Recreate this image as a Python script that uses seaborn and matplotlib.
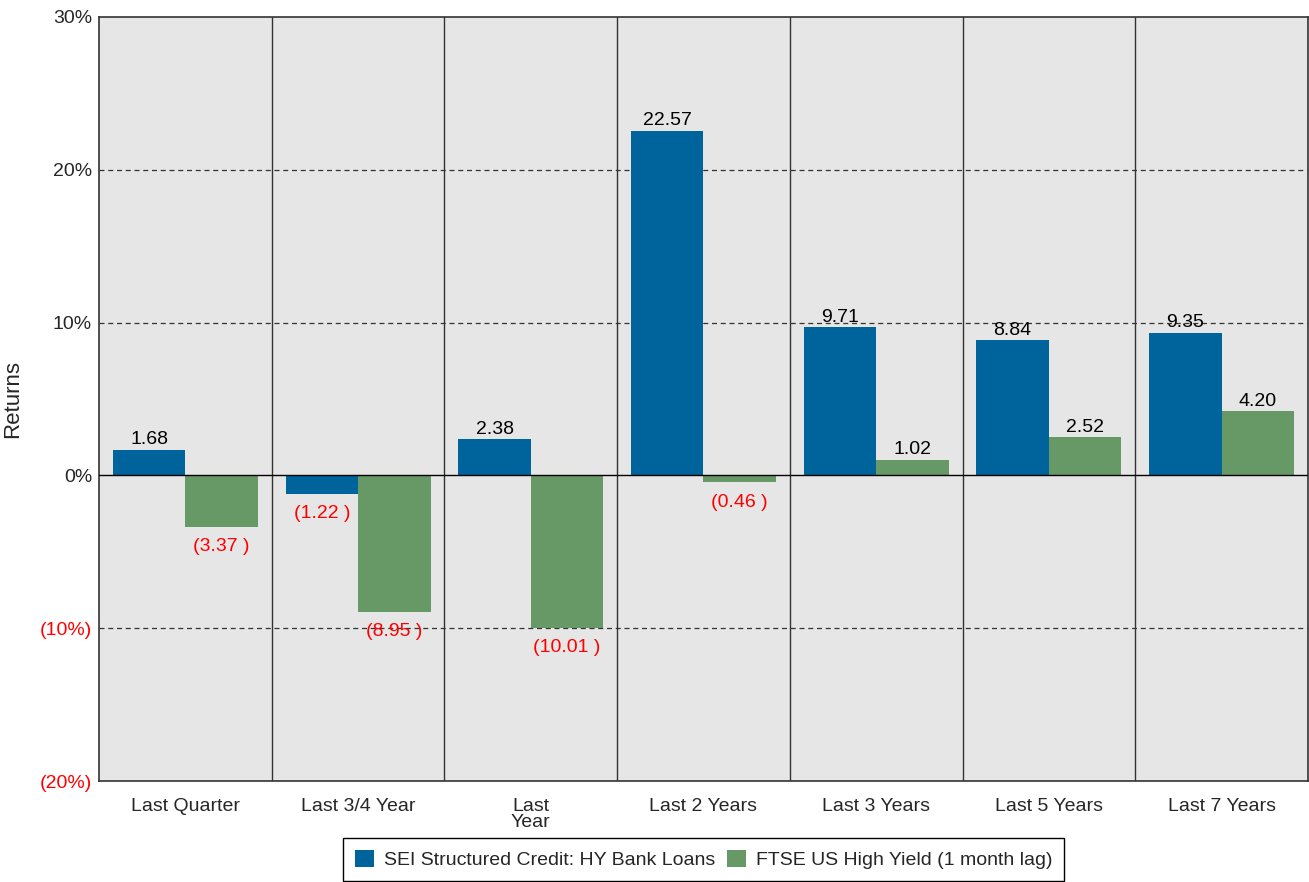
import matplotlib
matplotlib.use('Agg')
import matplotlib.pyplot as plt
import seaborn as sns
import pandas as pd

periods = ['Last Quarter', 'Last 3/4 Year', 'Last\nYear', 'Last 2 Years',
           'Last 3 Years', 'Last 5 Years', 'Last 7 Years']
series = ['SEI Structured Credit: HY Bank Loans', 'FTSE US High Yield (1 month lag)']
sei = [1.68, -1.22, 2.38, 22.57, 9.71, 8.84, 9.35]
ftse = [-3.37, -8.95, -10.01, -0.46, 1.02, 2.52, 4.20]
colors = ['#00649C', '#669966']
yticks = [-20, -10, 0, 10, 20, 30]

df = pd.DataFrame({
    'period': periods * 2,
    'series': [series[0]] * len(periods) + [series[1]] * len(periods),
    'value': sei + ftse,
})

sns.set_style('white')
plt.rcParams['font.family'] = ['Liberation Sans', 'DejaVu Sans']

fig = plt.figure(figsize=(13.09, 8.82), dpi=100)
ax = fig.add_axes([99 / 1309, 1 - 781 / 882, 1209 / 1309, 764 / 882])
ax.set_facecolor('#E6E6E6')

sns.barplot(data=df, x='period', y='value', hue='series', order=periods,
            hue_order=series, palette=colors, width=0.84, saturation=1,
            linewidth=0, edgecolor='none', ax=ax, legend=True)

ax.set_ylim(-20, 30)
ax.set_xlim(-0.5, len(periods) - 0.5)
ax.set_yticks(yticks)
ax.set_yticklabels([f'({-v}%)' if v < 0 else f'{v}%' for v in yticks], fontsize=14)
for t, v in zip(ax.get_yticklabels(), yticks):
    if v < 0:
        t.set_color('red')
ax.tick_params(axis='y', length=0, pad=5)
ax.tick_params(axis='x', length=0, pad=12, labelsize=14)
for t in ax.get_xticklabels():
    t.set_linespacing(0.95)
ax.set_xlabel('')
ax.set_ylabel('Returns', fontsize=16, labelpad=12)

for v in [-10, 10, 20]:
    ax.axhline(v, color='#333333', lw=0.9, ls=(0, (4, 3)), zorder=0.5)
ax.axhline(0, color='black', lw=1, zorder=3)
for i in range(1, len(periods)):
    ax.axvline(i - 0.5, color='#333333', lw=1, zorder=0.5)
for s in ax.spines.values():
    s.set_color('#333333')
    s.set_linewidth(1.2)

for cont, vals in zip(ax.containers, [sei, ftse]):
    for bar, v in zip(cont, vals):
        x = bar.get_x() + bar.get_width() / 2
        if v >= 0:
            ax.annotate(f'{v:.2f}', (x, v), xytext=(0, 1), textcoords='offset points',
                        ha='center', va='bottom', fontsize=14, color='black')
        else:
            ax.annotate(f'({-v:.2f} )', (x, v), xytext=(0, -8), textcoords='offset points',
                        ha='center', va='top', fontsize=14, color='red')

ax.legend(loc='upper center', bbox_to_anchor=(0.5, -0.075), ncol=2, frameon=True,
          fancybox=False, edgecolor='black', fontsize=14, handlelength=1.0,
          handleheight=1.0, handletextpad=0.5, columnspacing=0.6,
          borderpad=0.6, borderaxespad=0, framealpha=1)

fig.savefig('out.png', dpi=100)
